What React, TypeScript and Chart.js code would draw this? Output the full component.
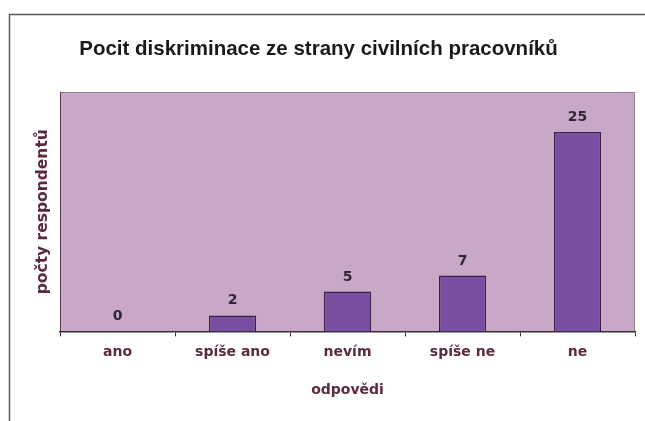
import React, { useEffect, useRef } from 'react';
import { Chart, registerables } from 'chart.js';

Chart.register(...registerables);

const categories = ['ano', 'spíše ano', 'nevím', 'spíše ne', 'ne'];
const values = [0, 2, 5, 7, 25];
const chartTitle = 'Pocit diskriminace ze strany civilních pracovníků';
const xTitle = 'odpovědi';
const yTitle = 'počty respondentů';

const FONT = "'DejaVu Sans', sans-serif";
const TITLE_FONT = "'Liberation Sans', Arial, sans-serif";
const LABEL_COLOR = '#5a2a42';

const framePlugin = {
  id: 'frame',
  beforeDraw(chart: any) {
    const { ctx, chartArea } = chart;
    ctx.save();
    ctx.fillStyle = '#ffffff';
    ctx.fillRect(0, 0, chart.width, chart.height);
    // outer frame
    ctx.strokeStyle = '#5a5a5a';
    ctx.lineWidth = 1.5;
    ctx.beginPath();
    ctx.moveTo(9.5, chart.height);
    ctx.lineTo(9.5, 14.5);
    ctx.lineTo(chart.width, 14.5);
    ctx.stroke();
    // title
    ctx.fillStyle = '#1a1a1a';
    ctx.font = `bold 20.5px ${TITLE_FONT}`;
    ctx.textAlign = 'center';
    ctx.textBaseline = 'middle';
    ctx.fillText(chartTitle, 318.5, 49.5);
    // plot background
    ctx.fillStyle = '#c9a7c6';
    ctx.fillRect(chartArea.left, chartArea.top, chartArea.right - chartArea.left, chartArea.bottom - chartArea.top);
    ctx.strokeStyle = '#8a8090';
    ctx.lineWidth = 1;
    ctx.beginPath();
    ctx.moveTo(chartArea.left, chartArea.top + 0.5);
    ctx.lineTo(chartArea.right - 0.5, chartArea.top + 0.5);
    ctx.lineTo(chartArea.right - 0.5, chartArea.bottom);
    ctx.stroke();
    ctx.strokeStyle = '#5a3a50';
    ctx.beginPath();
    ctx.moveTo(chartArea.left + 0.5, chartArea.top);
    ctx.lineTo(chartArea.left + 0.5, chartArea.bottom);
    ctx.stroke();
    ctx.restore();
  },
  afterDatasetsDraw(chart: any) {
    const { ctx } = chart;
    const meta = chart.getDatasetMeta(0);
    ctx.save();
    ctx.fillStyle = '#2e2830';
    ctx.font = `bold 14px ${FONT}`;
    ctx.textAlign = 'center';
    ctx.textBaseline = 'alphabetic';
    meta.data.forEach((bar: any, i: number) => {
      ctx.fillText(String(values[i]), bar.x, bar.y - 11);
    });
    ctx.restore();
  },
};

export default function App() {
  const ref = useRef<HTMLCanvasElement>(null);
  useEffect(() => {
    const chart = new Chart(ref.current!, {
      type: 'bar',
      data: {
        labels: categories,
        datasets: [
          {
            data: values,
            backgroundColor: '#7a4ea2',
            borderColor: '#3a2046',
            borderWidth: 1.5,
            barPercentage: 0.82,
            categoryPercentage: 0.5,
          },
        ],
      },
      options: {
        responsive: false,
        animation: false,
        layout: { padding: { left: 20, right: 10, top: 92, bottom: 18.6 } },
        plugins: {
          legend: { display: false },
          tooltip: { enabled: false },
          title: { display: false },
        },
        scales: {
          x: {
            grid: {
              display: true,
              offset: true,
              drawOnChartArea: false,
              drawTicks: true,
              tickLength: 5,
              color: '#3a2a33',
            },
            border: { display: true, color: '#3a2a33', width: 1.5 },
            ticks: {
              color: LABEL_COLOR,
              font: { family: FONT, size: 14, weight: 'bold' },
              padding: 7.6,
            },
            title: {
              display: true,
              text: xTitle,
              color: LABEL_COLOR,
              font: { family: FONT, size: 14, weight: 'bold' },
              padding: { top: 13.2, bottom: 4 },
            },
          },
          y: {
            min: 0,
            max: 30,
            grid: { display: false, drawTicks: false },
            border: { display: false },
            ticks: { display: false },
            title: {
              display: true,
              text: yTitle,
              color: LABEL_COLOR,
              font: { family: FONT, size: 15.5, weight: 'bold' },
              padding: { top: 13.2, bottom: 8.2 },
            },
          },
        },
      },
      plugins: [framePlugin],
    });
    return () => chart.destroy();
  }, []);
  return (
    <div style={{ position: 'absolute', left: 0, top: 0, width: 645, height: 421 }}>
      <canvas ref={ref} width={645} height={421} style={{ display: 'block' }} />
    </div>
  );
}
